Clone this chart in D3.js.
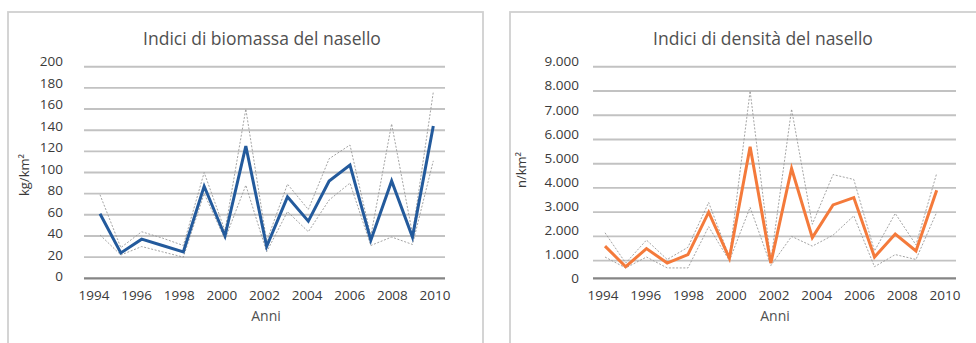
<!DOCTYPE html>
<html><head><meta charset="utf-8">
<script src="https://cdn.jsdelivr.net/npm/d3@7"></script>
<style>
html,body{margin:0;padding:0;background:#fff;}
svg{display:block;font-family:"Open Sans",sans-serif;}
</style></head>
<body>
<svg id="c" width="976" height="343"></svg>
<script>
// ---- data ----
const years = [1994,1995,1996,1997,1998,1999,2000,2001,2002,2003,2004,2005,2006,2007,2008,2009,2010];
const xTickLabels = ["1994","1996","1998","2000","2002","2004","2006","2008","2010"];

const biomass      = [61,24,37,31,25,87,40,125,30,77,54,92,107,36,92,39,144];
const biomassUpper = [79,29,44,38,31,100,45,160,35,89,65,113,126,40,146,42,176];
const biomassLower = [41,22,30,25,20,80,37,88,25,63,44,74,90,31,39,32,111];
const biomassTicks = [0,20,40,60,80,100,120,140,160,180,200];

const density      = [1600,750,1500,900,1250,3000,1100,5700,900,4800,1950,3300,3600,1150,2100,1400,3900];
const densityUpper = [2150,900,1850,1050,1550,3400,1150,8000,1000,7250,2500,4550,4350,1400,2950,1650,4600];
const densityLower = [1150,700,1150,700,700,2400,1000,3200,800,2000,1600,2050,2850,750,1250,1050,3000];
const densityTicks = [0,1000,2000,3000,4000,5000,6000,7000,8000,9000];

const svg = d3.select("#c");

function drawChart(cfg){
  const g = svg.append("g");
  // frame
  g.append("rect").attr("x",cfg.box[0]).attr("y",cfg.box[1]).attr("width",cfg.box[2]).attr("height",cfg.box[3])
    .attr("fill","#fff").attr("stroke","#d0d0d0").attr("stroke-width",1.8);
  // title
  g.append("text").attr("x",cfg.titleX).attr("y",45).attr("text-anchor","middle")
    .attr("fill","#505050").style("font-size","17.5px").text(cfg.title);

  const y = d3.scaleLinear().domain([0,cfg.yMax]).range(cfg.yRange);
  const yLab = d3.scaleLinear().domain([0,cfg.yMax]).range(cfg.yLabRange);
  const x = d3.scaleLinear().domain([1994,2010]).range(cfg.xRange);
  const xLab = d3.scalePoint().domain(xTickLabels).range(cfg.xLabRange);

  // gridlines
  g.append("g").selectAll("line").data(cfg.ticks.filter(t=>t>0)).join("line")
    .attr("x1",cfg.grid[0]).attr("x2",cfg.grid[1])
    .attr("y1",d=>y(d)).attr("y2",d=>y(d))
    .attr("stroke","#c2c2c2").attr("stroke-width",1.9);
  // baseline
  g.append("line").attr("x1",cfg.grid[0]).attr("x2",cfg.grid[1])
    .attr("y1",cfg.base).attr("y2",cfg.base).attr("stroke","#858585").attr("stroke-width",2.2);

  // y tick labels
  g.append("g").selectAll("text").data(cfg.ticks).join("text")
    .attr("x",cfg.yLabX).attr("y",d=>yLab(d)).attr("dy","0.35em").attr("text-anchor","end")
    .attr("fill","#3a3a3a").style("font-size","13.5px")
    .text(cfg.fmt);
  // x tick labels
  g.append("g").selectAll("text").data(xTickLabels).join("text")
    .attr("x",d=>xLab(d)).attr("y",300).attr("text-anchor","middle")
    .attr("fill","#3a3a3a").style("font-size","13.5px").text(d=>d);
  // axis titles
  g.append("text").attr("x",cfg.anniX).attr("y",321).attr("text-anchor","middle")
    .attr("fill","#505050").style("font-size","14px").text("Anni");
  g.append("text").attr("transform",`translate(${cfg.yTitle[0]},${cfg.yTitle[1]}) rotate(-90)`)
    .attr("text-anchor","middle").attr("fill","#3a3a3a").style("font-size","13px").text(cfg.yTitleText);

  const line = d3.line().x((d,i)=>x(years[i])).y(d=>y(d));
  [cfg.upper,cfg.lower].forEach(arr=>{
    g.append("path").datum(arr).attr("d",line).attr("fill","none")
      .attr("stroke","#999").attr("stroke-width",0.9).attr("stroke-dasharray","2,1.6");
  });
  g.append("path").datum(cfg.main).attr("d",line).attr("fill","none")
    .attr("stroke",cfg.color).attr("stroke-width",3).attr("stroke-linejoin","miter");
}

drawChart({
  box:[8,12,475,345], title:"Indici di biomassa del nasello", titleX:262,
  yMax:200, yRange:[278.3,66.7], yLabRange:[276.7,61.7], base:278.3,
  xRange:[100,433.3], xLabRange:[94,435], grid:[84,445],
  ticks:biomassTicks, fmt:d=>d, yLabX:63, anniX:266,
  yTitle:[29,175], yTitleText:"kg/km²",
  main:biomass, upper:biomassUpper, lower:biomassLower, color:"#235a9c"
});
const itFmt = d => d===0 ? "0" : d3.format(",")(d).replace(/,/g,".");
drawChart({
  box:[510,12,470,345], title:"Indici di densità del nasello", titleX:763,
  yMax:9000, yRange:[284.9,66.7], yLabRange:[278.3,61.7], base:278.3,
  xRange:[605,936.7], xLabRange:[603,945], grid:[593,956],
  ticks:densityTicks, fmt:itFmt, yLabX:579, anniX:775,
  yTitle:[526,170], yTitleText:"n/km²",
  main:density, upper:densityUpper, lower:densityLower, color:"#f47a3b"
});
</script>
</body></html>
